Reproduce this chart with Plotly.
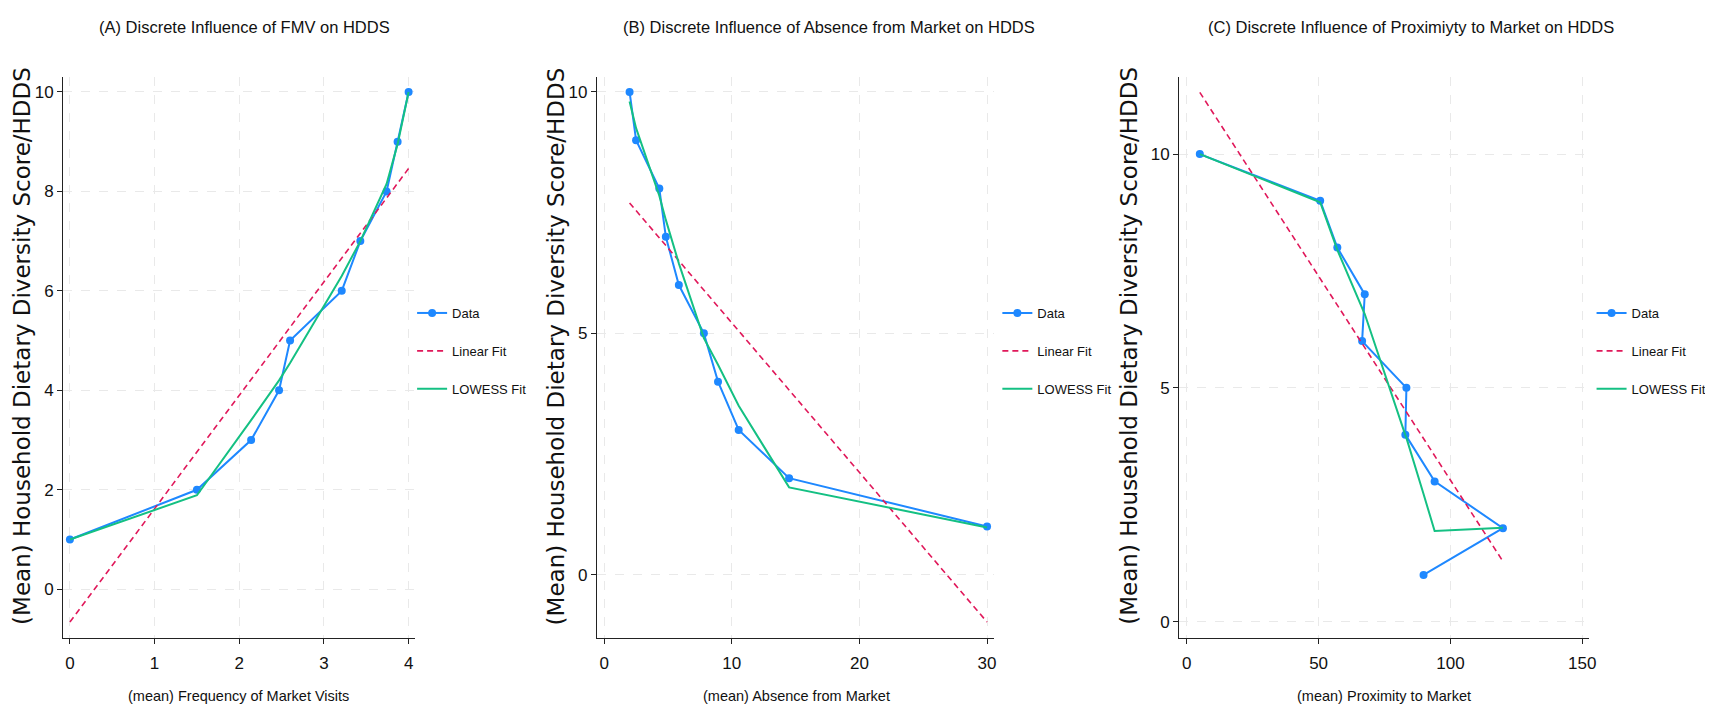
import plotly.graph_objects as go

W, H = 1713, 716

# ---------------- data ----------------
hdds = [10, 9, 8, 7, 6, 5, 4, 3, 2, 1]

# Panel A: frequency of market visits
a_x = [4.0, 3.87, 3.74, 3.43, 3.21, 2.6, 2.47, 2.14, 1.5, 0.0]
a_lowess_x = [0.0, 1.5, 2.14, 2.47, 2.6, 3.21, 3.43, 3.74, 3.87, 4.0]
a_lowess_y = [1.0, 1.89, 3.4, 4.2, 4.55, 6.3, 7.0, 8.15, 8.95, 10.0]
a_fit_x = [0.0, 4.0]
a_fit_y = [-0.66, 8.46]

# Panel B: absence from market
b_x = [1.99, 2.5, 4.32, 4.83, 5.85, 7.81, 8.92, 10.54, 14.49, 30.0]
b_lowess_x = [1.99, 2.5, 4.32, 4.83, 5.85, 7.81, 8.92, 10.54, 14.49, 30.0]
b_lowess_y = [9.8, 9.25, 7.85, 7.35, 6.45, 4.9, 4.35, 3.5, 1.81, 0.98]
b_fit_x = [1.99, 30.0]
b_fit_y = [7.7, -0.98]

# Panel C: proximity to market
c_x = [4.95, 50.6, 57.1, 67.5, 66.5, 83.3, 82.9, 94.0, 119.9, 89.8]
c_lowess_x = [4.95, 50.6, 57.1, 66.5, 67.5, 82.9, 83.3, 89.8, 94.0, 119.9]
c_lowess_y = [10.0, 8.97, 7.95, 6.73, 6.58, 3.99, 3.93, 2.73, 1.94, 2.01]
c_fit_x = [4.95, 119.9]
c_fit_y = [11.32, 1.29]

titles = ["(A) Discrete Influence of FMV on HDDS",
          "(B) Discrete Influence of Absence from Market on HDDS",
          "(C) Discrete Influence of Proximiyty to Market on HDDS"]
xtitles = ["(mean) Frequency of Market Visits",
           "(mean) Absence from Market",
           "(mean) Proximity to Market"]
ytitle = "(Mean) Household Dietary Diversity Score/HDDS"

a_xticks = [0, 1, 2, 3, 4]
a_yticks = [0, 2, 4, 6, 8, 10]
b_xticks = [0, 10, 20, 30]
b_yticks = [0, 5, 10]
c_xticks = [0, 50, 100, 150]
c_yticks = [0, 5, 10]

# ---------------- style ----------------
BLUE = "#1e88ff"
RED = "#e0185a"
GREEN = "#14c083"
NARROW = "Liberation Sans Narrow, Arial Narrow, Liberation Sans, Arial, sans-serif"
WIDE = "DejaVu Sans, Verdana, sans-serif"

panels = [
    dict(l=55.4, r=408.7, xr=[-0.08, 4.073], yr=[-0.98, 10.31],
         xt=a_xticks, yt=a_yticks, tcx=238, xtc=232, ytx=14, legx=406),
    dict(l=591.8, r=990.7, xr=[-0.56, 30.55], yr=[-1.31, 10.32],
         xt=b_xticks, yt=b_yticks, tcx=825, xtc=792, ytx=551, legx=994),
    dict(l=1176.6, r=1588.3, xr=[-2.9, 152.5], yr=[-0.35, 11.66],
         xt=c_xticks, yt=c_yticks, tcx=1410, xtc=1382, ytx=1126, legx=1591),
]
top, bottom = 68.5, 630.0

series = [
    (a_x, a_lowess_x, a_lowess_y, a_fit_x, a_fit_y),
    (b_x, b_lowess_x, b_lowess_y, b_fit_x, b_fit_y),
    (c_x, c_lowess_x, c_lowess_y, c_fit_x, c_fit_y),
]

fig = go.Figure()
layout = dict(
    width=W, height=H, margin=dict(l=0, r=0, t=0, b=0),
    paper_bgcolor="white", plot_bgcolor="white", showlegend=True,
)
annotations = []

for i, (p, s) in enumerate(zip(panels, series)):
    n = "" if i == 0 else str(i + 1)
    xa, ya = "x" + n, "y" + n
    leg = "legend" + n
    dx, lx, ly, fx, fy = s
    fig.add_trace(go.Scatter(
        x=dx, y=hdds, mode="lines+markers", name="Data",
        line=dict(color=BLUE, width=2), marker=dict(color=BLUE, size=8),
        xaxis=xa, yaxis=ya, legend=leg, legendgroup=f"d{i}"))
    fig.add_trace(go.Scatter(
        x=fx, y=fy, mode="lines", name="Linear Fit",
        line=dict(color=RED, width=1.6, dash="6px,4px"),
        xaxis=xa, yaxis=ya, legend=leg, legendgroup=f"f{i}"))
    fig.add_trace(go.Scatter(
        x=lx, y=ly, mode="lines", name="LOWESS Fit",
        line=dict(color=GREEN, width=2),
        xaxis=xa, yaxis=ya, legend=leg, legendgroup=f"l{i}"))

    axis_common = dict(
        showline=True, linecolor="#222222", linewidth=1.2, mirror=False,
        ticks="outside", ticklen=5, tickcolor="#222222", tickwidth=1,
        showgrid=True, gridcolor="#e9e9e9", griddash="dash", gridwidth=1,
        zeroline=False, tickfont=dict(family=NARROW, size=17, color="#111111"),
    )
    layout["xaxis" + n] = dict(
        axis_common, domain=[p["l"] / W, p["r"] / W], range=p["xr"],
        tickmode="array", tickvals=p["xt"], anchor=ya, ticklabelstandoff=4,
    )
    layout["yaxis" + n] = dict(
        axis_common, domain=[1 - bottom / H, 1 - top / H], range=p["yr"],
        tickmode="array", tickvals=p["yt"], anchor=xa,
    )
    layout[leg] = dict(
        x=p["legx"] / W, y=1 - 343 / H, xanchor="left", yanchor="middle",
        bgcolor="rgba(0,0,0,0)", font=dict(family=NARROW, size=13, color="#111111"),
        tracegroupgap=18, itemwidth=30, traceorder="grouped",
    )
    annotations.append(dict(
        text=titles[i], x=p["tcx"] / W, y=1 - 19 / H, xref="paper", yref="paper",
        xanchor="center", yanchor="middle", showarrow=False,
        font=dict(family=NARROW, size=16.5, color="#111111")))
    annotations.append(dict(
        text=xtitles[i], x=p["xtc"] / W, y=1 - 688 / H, xref="paper", yref="paper",
        xanchor="center", yanchor="middle", showarrow=False,
        font=dict(family=NARROW, size=14.5, color="#111111")))
    annotations.append(dict(
        text=ytitle, x=p["ytx"] / W, y=1 - 338 / H, xref="paper", yref="paper",
        xanchor="center", yanchor="middle", showarrow=False, textangle=-90,
        font=dict(family=WIDE, size=23, color="#111111")))

layout["annotations"] = annotations
fig.update_layout(**layout)
fig.write_html("out.html")
